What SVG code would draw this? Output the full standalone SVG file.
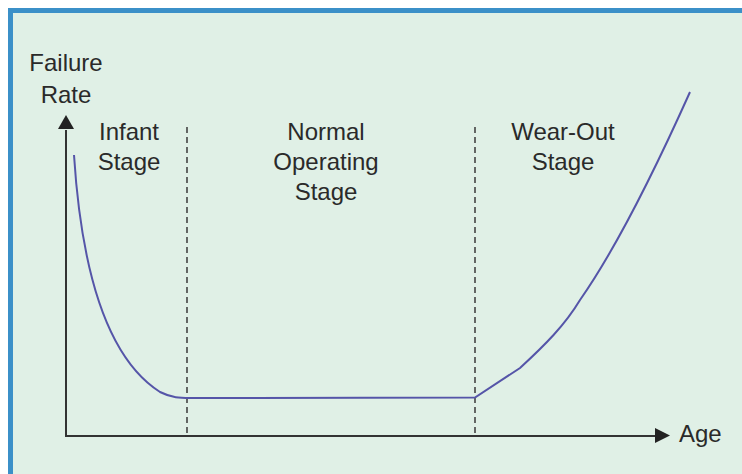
<svg xmlns="http://www.w3.org/2000/svg" width="742" height="474" viewBox="0 0 742 474">
<style>
text{font-family:"Liberation Sans",Arial,sans-serif;font-size:24px;fill:#2a2a2a}
.axis{stroke:#333;stroke-width:2;fill:none}
.dash{stroke:#444;stroke-width:1.6;stroke-dasharray:6,4;fill:none}
.curve{stroke:#5555a8;stroke-width:2;fill:none}
</style>
<defs>
<marker id="ah" viewBox="0 0 10 10" refX="10" refY="5" markerWidth="8" markerHeight="8" markerUnits="userSpaceOnUse" orient="auto">
<path d="M0,0 L10,5 L0,10 Z" fill="#222"/>
</marker>
</defs>
<rect width="742" height="474" fill="#fff"/>
<rect x="10.5" y="10.5" width="740" height="470" fill="#e0f0e6" stroke="#3b90c8" stroke-width="5"/>
<g id="connectors">
<path class="axis" d="M66,436 V130"/>
<path d="M58,129 L66,115 L74,129 Z" fill="#222"/>
<path class="axis" d="M65,436 H657"/>
<path d="M655,428 L670,435.5 L655,443 Z" fill="#222"/>
<path class="dash" d="M187,127 V436"/>
<path class="dash" d="M475,127 V436"/>
<path class="curve" d="M74,155 C82,280 110,360 160,392 C172,398 180,398 190,398 L475,397.5 L520,368 C545,345 565,325 580,300 C615,250 655,170 690,92"/>
</g>
<g id="y-label">
<text x="66" y="71" text-anchor="middle">Failure</text>
<text x="66" y="103" text-anchor="middle">Rate</text>
</g>
<g id="x-label"><text x="679" y="442">Age</text></g>
<g id="infant">
<text x="129" y="140" text-anchor="middle">Infant</text>
<text x="129" y="170" text-anchor="middle">Stage</text>
</g>
<g id="normal">
<text x="326" y="140" text-anchor="middle">Normal</text>
<text x="326" y="170" text-anchor="middle">Operating</text>
<text x="326" y="200" text-anchor="middle">Stage</text>
</g>
<g id="wearout">
<text x="563" y="140" text-anchor="middle">Wear-Out</text>
<text x="563" y="170" text-anchor="middle">Stage</text>
</g>
</svg>
